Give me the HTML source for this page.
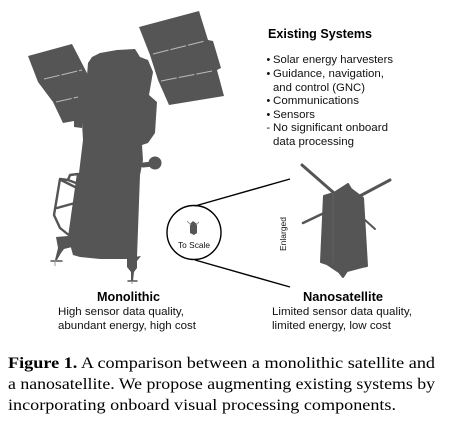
<!DOCTYPE html>
<html lang="en">
<head>
<meta charset="utf-8">
<title>Monolithic satellite vs nanosatellite</title>
<style>
html,body{margin:0;padding:0;background:#fff;width:454px;height:430px;overflow:hidden}
svg{display:block;filter:blur(.3px)}
.s{font-family:"Liberation Sans",Arial,sans-serif;fill:#111}
.t{font-size:10.8px}
.b{font-size:12.700px;font-weight:700;fill:#000}
.c{font-family:"Liberation Serif","DejaVu Serif",serif;font-size:16.300px;fill:#000}
.g{fill:#555}
.l{stroke:#555;fill:none;stroke-linecap:round;stroke-linejoin:round}
.d{stroke:#bbb;stroke-width:1;stroke-dasharray:16 2;fill:none}
</style>
</head>
<body>
<svg width="454" height="430" viewBox="0 0 454 430" xmlns="http://www.w3.org/2000/svg">
  <g>
    <g>
      <polygon class="g" points="28,56 72,44 88,75 90,121 82,122 82,128 74,127 74,121 63,123 53,102 38,82"/>
      <path class="d" d="M44,79 L82,70"/>
      <path class="d" d="M56,102 L78,97"/>
    </g>
    <g>
      <polygon class="g" points="139,27 199,11 208,40 213,41 221,68 217,70 224,96 169,105 158,80 150,55"/>
      <path class="d" d="M153,54 L205,41"/>
      <path class="d" d="M161,81 L212,71"/>
    </g>
    <polygon class="g" points="88,63 92,57 100,53 117,50 135,49 140,57 148,60 153,72 149,95 157,102 155,133 148,143 142,145 143,160 140,175 137,257 128,259 100,259 80,257 73,255 68,237 77,173 79,173 83,140 82,123 85,100"/>
    <circle class="g" cx="155" cy="163" r="6.500"/>
    <path class="l" stroke-width="5" d="M143,165 L153,164"/>
    <path class="l" stroke-width="2.400" d="M78,174 L70,175 L68,180 L60,179 L54,215 L60,228 L70,236 M57,208 L75,203 M61,180 L75,187 M68,180 L76,183"/>
    <g>
      <polygon class="g" points="56,237 68,236 72,247 64,249 61,253 57,260 55,260 58,248"/>
      <path class="l" stroke-width="1.500" d="M51,261 L62,261"/>
      <path stroke="#999" stroke-width="1" fill="none" d="M55,261 L55,266"/>
    </g>
    <g>
      <polygon class="g" points="127,258 141,256 137,261 137,268 134,272 133,281 131,281 131,272 127,267"/>
      <path class="l" stroke-width="1.500" d="M128,281 L137,281"/>
      <path stroke="#999" stroke-width="1" fill="none" d="M132,281 L132,284"/>
    </g>
  </g>

  <g>
    <text class="s b" x="268" y="38" textLength="104" lengthAdjust="spacingAndGlyphs">Existing Systems</text>
    <g class="s t">
      <text x="266.500" y="63">•</text>
      <text x="273" y="63" textLength="120" lengthAdjust="spacingAndGlyphs">Solar energy harvesters</text>
      <text x="266.500" y="77">•</text>
      <text x="273" y="77" textLength="111" lengthAdjust="spacingAndGlyphs">Guidance, navigation,</text>
      <text x="273" y="91" textLength="92" lengthAdjust="spacingAndGlyphs">and control (GNC)</text>
      <text x="266.500" y="104">•</text>
      <text x="273" y="104" textLength="86" lengthAdjust="spacingAndGlyphs">Communications</text>
      <text x="266.500" y="118">•</text>
      <text x="273" y="118" textLength="42" lengthAdjust="spacingAndGlyphs">Sensors</text>
      <text x="266.500" y="131">-</text>
      <text x="273" y="131" textLength="115" lengthAdjust="spacingAndGlyphs">No significant onboard</text>
      <text x="273" y="145" textLength="81" lengthAdjust="spacingAndGlyphs">data processing</text>
    </g>
  </g>

  <g>
    <circle cx="194" cy="232.500" r="27" fill="none" stroke="#000" stroke-width="1.400"/>
    <path d="M195,206 L290,179" stroke="#000" stroke-width="1.400" fill="none"/>
    <path d="M195,260 L290,287" stroke="#000" stroke-width="1.400" fill="none"/>
    <g>
      <polygon class="g" points="190,224 193,221 197,224 197,233 194,235 190,233"/>
      <path stroke="#999" stroke-width=".9" fill="none" d="M187,221 L191,225 M199,222 L196,225"/>
    </g>
    <text class="s" font-size="8.500" x="178" y="248" textLength="32" lengthAdjust="spacingAndGlyphs">To Scale</text>
    <text class="s" font-size="8.500" transform="translate(286,251) rotate(-90)" textLength="34" lengthAdjust="spacingAndGlyphs">Enlarged</text>
  </g>

  <g>
    <path class="l" stroke-width="3" d="M302,165 L334,193"/>
    <path class="l" stroke-width="3" d="M390,180 L358,197"/>
    <path class="l" stroke-width="2.500" d="M303,223 L324,213"/>
    <path class="l" stroke-width="2" d="M375,229 L365,220"/>
    <polygon class="g" stroke="#555" stroke-width="2" stroke-linejoin="round" points="324,196 334,193 345,186 348,184 351,189 363,198 367,266 362,267 347,271 343,277 339,272 327,264 321,262"/>
    <path stroke="#6a6a6a" stroke-width=".6" fill="none" d="M333,193 L333,263"/>
  </g>

  <g>
    <text class="s b" x="97" y="301" textLength="63" lengthAdjust="spacingAndGlyphs">Monolithic</text>
    <text class="s t" x="58" y="315" textLength="126" lengthAdjust="spacingAndGlyphs">High sensor data quality,</text>
    <text class="s t" x="58" y="329" textLength="138" lengthAdjust="spacingAndGlyphs">abundant energy, high cost</text>
  </g>

  <g>
    <text class="s b" x="303" y="301" textLength="80" lengthAdjust="spacingAndGlyphs">Nanosatellite</text>
    <text class="s t" x="272" y="315" textLength="140" lengthAdjust="spacingAndGlyphs">Limited sensor data quality,</text>
    <text class="s t" x="272" y="329" textLength="119" lengthAdjust="spacingAndGlyphs">limited energy, low cost</text>
  </g>

  <g>
    <text class="c" x="8" y="368" textLength="427" lengthAdjust="spacingAndGlyphs"><tspan font-weight="700">Figure 1.</tspan> A comparison between a monolithic satellite and</text>
    <text class="c" x="8" y="389" textLength="427" lengthAdjust="spacingAndGlyphs">a nanosatellite. We propose augmenting existing systems by</text>
    <text class="c" x="8" y="410" textLength="388" lengthAdjust="spacingAndGlyphs">incorporating onboard visual processing components.</text>
  </g>
</svg>
</body>
</html>
